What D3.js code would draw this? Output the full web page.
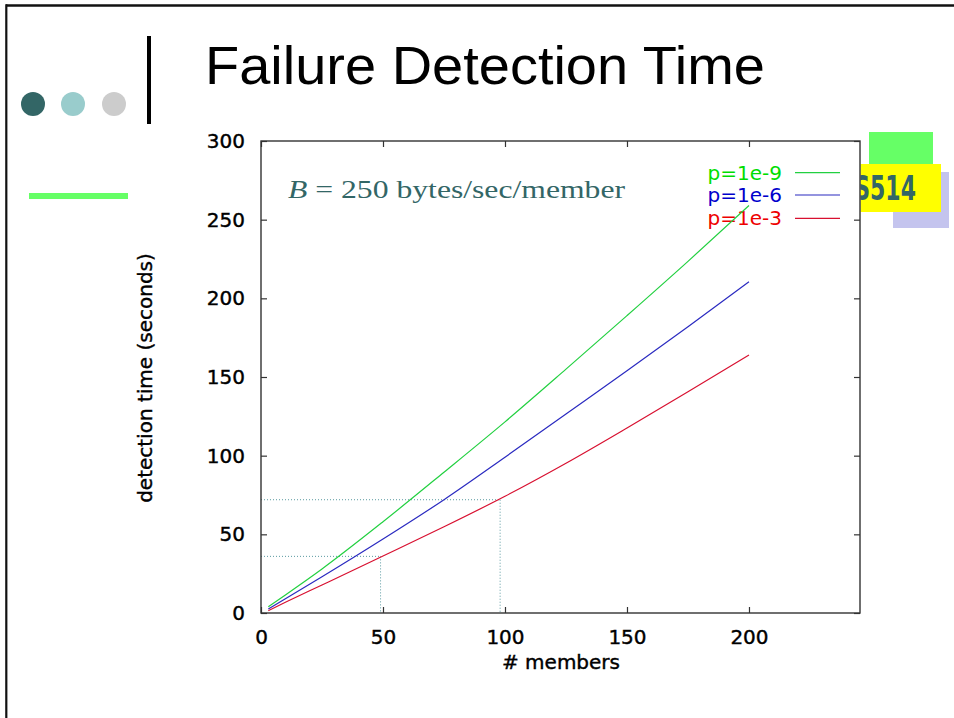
<!DOCTYPE html>
<html>
<head>
<meta charset="utf-8">
<script src="https://cdn.jsdelivr.net/npm/d3@7"></script>
<style>
  html, body { margin: 0; padding: 0; background: #fff; }
  svg { display: block; }
</style>
</head>
<body>
<svg id="chart" width="954" height="718"></svg>
<script>
// ---- data ----
const members = [3, 10, 25, 50, 75, 100, 125, 150, 175, 200];
const p1e9 = [4, 11.5, 28, 58, 89.5, 121.5, 155, 189, 223.5, 259];
const p1e6 = [2.5, 9, 23, 47, 72, 99, 126.5, 154, 182, 210.5];
const p1e3 = [1.5, 6.8, 17.8, 36.2, 54.8, 74.2, 95.2, 117.6, 140.6, 164];
const seriesNames = ["p=1e-9", "p=1e-6", "p=1e-3"];
const seriesColors = ["#22d040", "#2a2ac0", "#d81030"];
const legendTextColors = ["#00dd00", "#0000cc", "#ee0000"];
const refMembers = [49, 98];
const refTimes = [36, 72];
const xTicks = [0, 50, 100, 150, 200];
const yTicks = [0, 50, 100, 150, 200, 250, 300];

const svg = d3.select("#chart");

// ---- slide decorations ----
svg.append("line").attr("x1", 6).attr("x2", 954).attr("y1", 5.5).attr("y2", 5.5)
  .attr("stroke", "#111").attr("stroke-width", 2.5);
svg.append("line").attr("x1", 6.3).attr("x2", 6.3).attr("y1", 4.3).attr("y2", 718)
  .attr("stroke", "#111").attr("stroke-width", 2.2);
const dotColors = ["#336666", "#99cccc", "#cccccc"];
const dotX = [33, 73, 114];
svg.selectAll("circle.deco").data(dotX).join("circle").attr("class", "deco")
  .attr("cx", d => d).attr("cy", 104).attr("r", 12)
  .attr("fill", (d, i) => dotColors[i]);
svg.append("rect").attr("x", 147).attr("y", 36).attr("width", 4).attr("height", 95).attr("fill", "#000");
svg.append("rect").attr("x", 29).attr("y", 193).attr("width", 104).attr("height", 6).attr("fill", "#66ff66");

svg.append("text").attr("x", 205).attr("y", 84)
  .attr("font-family", "Liberation Sans, Arial, sans-serif").attr("font-size", 54)
  .attr("textLength", 560).attr("lengthAdjust", "spacingAndGlyphs")
  .attr("fill", "#000").text("Failure Detection Time");

// logo
svg.append("rect").attr("x", 869).attr("y", 132).attr("width", 64).attr("height", 32).attr("fill", "#66ff66");
svg.append("rect").attr("x", 893).attr("y", 172).attr("width", 56).attr("height", 56).attr("fill", "#c4c4ee");
svg.append("rect").attr("x", 830).attr("y", 164).attr("width", 111).attr("height", 48).attr("fill", "#ffff00");
svg.append("text").attr("transform", "translate(916,200) scale(0.72,1)")
  .attr("text-anchor", "end")
  .attr("font-family", "DejaVu Sans Condensed, DejaVu Sans, sans-serif").attr("font-weight", "bold")
  .attr("font-size", 34).attr("fill", "#336666").text("CS514");

// chart image background (white) covering part of the logo
svg.append("rect").attr("x", 128).attr("y", 124).attr("width", 732.5).attr("height", 560).attr("fill", "#fff");

// ---- chart ----
const x = d3.scaleLinear().domain([0, 245.5]).range([261, 860]);
const y = d3.scaleLinear().domain([0, 300]).range([613, 141]);

const axisFont = "DejaVu Sans, Verdana, sans-serif";

// reference dotted lines
const refG = svg.append("g");
refMembers.forEach((m, i) => {
  refG.append("line").attr("x1", x(0)).attr("x2", x(m)).attr("y1", y(refTimes[i])).attr("y2", y(refTimes[i]))
    .attr("stroke", "#5a9aa0").attr("stroke-width", 1).attr("stroke-dasharray", "1,2");
  refG.append("line").attr("x1", x(m)).attr("x2", x(m)).attr("y1", y(refTimes[i])).attr("y2", y(0))
    .attr("stroke", "#5a9aa0").attr("stroke-width", 1).attr("stroke-dasharray", "1,2");
});

// axes
const gl = svg.append("g").attr("transform", `translate(${x(0)},0)`)
  .call(d3.axisLeft(y).tickValues(yTicks).tickSizeInner(-6).tickSizeOuter(0).tickPadding(16));
const gr = svg.append("g").attr("transform", `translate(${x.range()[1]},0)`)
  .call(d3.axisRight(y).tickValues(yTicks).tickSizeInner(-6).tickSizeOuter(0).tickFormat(""));
const gb = svg.append("g").attr("transform", `translate(0,${y(0)})`)
  .call(d3.axisBottom(x).tickValues(xTicks).tickSizeInner(-6).tickSizeOuter(0).tickPadding(17));
const gt = svg.append("g").attr("transform", `translate(0,${y(300)})`)
  .call(d3.axisTop(x).tickValues(xTicks).tickSizeInner(-6).tickSizeOuter(0).tickFormat(""));
[gl, gr, gb, gt].forEach(g => {
  g.select(".domain").remove();
  g.selectAll(".tick line").attr("stroke", "#333").attr("stroke-width", 1.2);
  g.selectAll(".tick text").attr("font-family", axisFont).attr("font-size", 20).attr("fill", "#000")
    .attr("stroke", "#000").attr("stroke-width", 0.4);
});

svg.append("rect").attr("x", x(0)).attr("y", y(300))
  .attr("width", x.range()[1] - x(0)).attr("height", y(0) - y(300))
  .attr("fill", "none").attr("stroke", "#333").attr("stroke-width", 1.4);

svg.append("text").attr("x", 561).attr("y", 669).attr("text-anchor", "middle")
  .attr("font-family", axisFont).attr("font-size", 20).attr("fill", "#000")
  .attr("stroke", "#000").attr("stroke-width", 0.4).text("# members");
svg.append("text").attr("transform", "translate(152,378) rotate(-90)").attr("text-anchor", "middle")
  .attr("font-family", axisFont).attr("font-size", 20).attr("fill", "#000")
  .attr("stroke", "#000").attr("stroke-width", 0.4).text("detection time (seconds)");

// annotation
const ann = svg.append("text").attr("x", 288).attr("y", 198)
  .attr("font-family", "Liberation Serif, Times New Roman, serif").attr("font-size", 25)
  .attr("fill", "#336666").attr("textLength", 337).attr("lengthAdjust", "spacingAndGlyphs");
ann.append("tspan").attr("font-style", "italic").text("B");
ann.append("tspan").text(" = 250 bytes/sec/member");

// legend
const legendY = [172.7, 195, 218.3];
seriesNames.forEach((name, i) => {
  svg.append("text").attr("x", 782).attr("y", legendY[i] + 7).attr("text-anchor", "end")
    .attr("font-family", axisFont).attr("font-size", 20).attr("fill", legendTextColors[i]).text(name);
  svg.append("line").attr("x1", 795).attr("x2", 840).attr("y1", legendY[i]).attr("y2", legendY[i])
    .attr("stroke", seriesColors[i]).attr("stroke-width", 1.2);
});

// series lines
const allSeries = [p1e9, p1e6, p1e3];
const line = d3.line().x(d => x(d[0])).y(d => y(d[1])).curve(d3.curveMonotoneX);
allSeries.forEach((vals, i) => {
  svg.append("path").datum(members.map((m, j) => [m, vals[j]]))
    .attr("d", line).attr("fill", "none").attr("stroke", seriesColors[i]).attr("stroke-width", 1.2);
});
</script>
</body>
</html>
